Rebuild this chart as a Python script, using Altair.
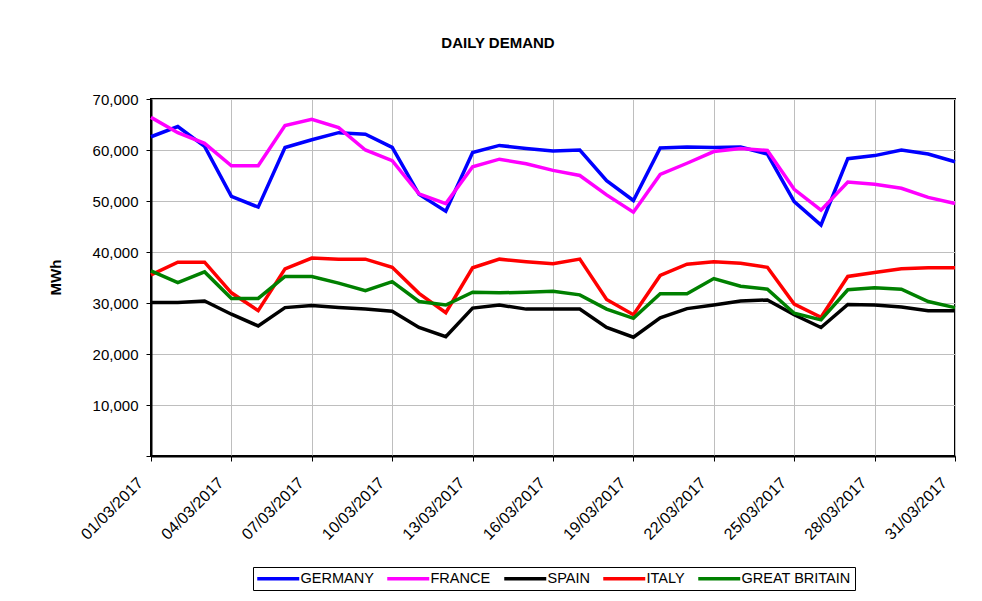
import altair as alt
import pandas as pd

dates = [f"{d:02d}/03/2017" for d in range(1, 32)]
tick_dates = dates[::3]
countries = ["GERMANY", "FRANCE", "SPAIN", "ITALY", "GREAT BRITAIN"]
colors = ["#0000FF", "#FF00FF", "#000000", "#FF0000", "#008000"]
y_ticks = [0, 10000, 20000, 30000, 40000, 50000, 60000, 70000]

germany = [62600, 64600, 60700, 50900, 48800, 60500, 62000, 63400, 63100, 60500,
           51300, 48000, 59500, 60900, 60300, 59800, 60000, 54000, 50100, 60400,
           60600, 60500, 60600, 59200, 49900, 45300, 58300, 58900, 60000, 59200, 57700]
france = [66400, 63400, 61300, 56900, 56900, 64800, 66000, 64400, 60000, 57900,
          51400, 49500, 56700, 58200, 57300, 56000, 55000, 51200, 47800, 55200,
          57400, 59700, 60300, 59900, 52300, 48200, 53700, 53300, 52500, 50700, 49500]
spain = [30100, 30100, 30400, 27800, 25500, 29100, 29500, 29100, 28800, 28400,
         25200, 23400, 29000, 29600, 28800, 28800, 28800, 25200, 23300, 27100,
         28900, 29600, 30400, 30600, 27700, 25200, 29700, 29600, 29200, 28500, 28500]
italy = [35500, 38000, 38000, 32000, 28500, 36700, 38800, 38600, 38600, 37000,
         31900, 28100, 36900, 38600, 38100, 37700, 38600, 30700, 27700, 35400,
         37600, 38100, 37800, 37000, 29800, 27200, 35200, 36000, 36700, 36900, 36900]
great_britain = [36300, 34000, 36100, 30900, 30900, 35200, 35200, 33900, 32400, 34200,
                 30300, 29600, 32100, 32000, 32100, 32300, 31600, 28800, 27000, 31800,
                 31800, 34800, 33300, 32700, 28000, 26700, 32600, 33000, 32700, 30300, 29100]

series = [germany, france, spain, italy, great_britain]
rows = []
for c, vals in zip(countries, series):
    for d, v in zip(dates, vals):
        rows.append({"date": d, "country": c, "mwh": v})
df = pd.DataFrame(rows)

FONT = "Liberation Sans"

chart = alt.Chart(df).mark_line(strokeWidth=3.5).encode(
    x=alt.X(
        "date:N",
        sort=dates,
        scale=alt.Scale(type="point", padding=0, domain=dates),
        axis=alt.Axis(
            values=tick_dates, title=None, labelAngle=-45, labelAlign="right",
            labelBaseline="middle", labelPadding=19, labelOffset=-11,
            labelOverlap=False, grid=True, gridColor="#BEBEBE", gridWidth=1,
            tickColor="black", tickSize=5, domainColor="black", domainWidth=2,
            labelFontSize=16, labelFont=FONT, labelColor="black",
        ),
    ),
    y=alt.Y(
        "mwh:Q",
        scale=alt.Scale(domain=[0, 70000], nice=False),
        axis=alt.Axis(
            values=y_ticks,
            labelExpr="datum.value == 0 ? '' : format(datum.value, ',')",
            title="MWh", titleFont=FONT, titleFontSize=15, titleFontWeight="bold",
            titleColor="black", titleAngle=270, titleAlign="center",
            titleBaseline="middle", titleX=-96, titleY=178,
            grid=True, gridColor="#BEBEBE", gridWidth=1,
            tickColor="black", tickSize=5, domainColor="black", domainWidth=2,
            labelFontSize=15, labelFont=FONT, labelColor="black", labelPadding=8,
        ),
    ),
    color=alt.Color(
        "country:N",
        sort=countries,
        title=None,
        scale=alt.Scale(domain=countries, range=colors),
        legend=alt.Legend(
            orient="none", legendX=102, legendY=468, direction="horizontal",
            columns=5, strokeColor="black", fillColor="white", padding=4,
            symbolType="M -4.2 0 H 4.2", symbolSize=100, symbolStrokeWidth=3.5,
            symbolOffset=14,
            labelFontSize=14.5, labelFont=FONT, labelColor="black",
            labelOffset=15, columnPadding=6,
        ),
    ),
).properties(
    width=804,
    height=357,
    autosize=alt.AutoSizeParams(type="none"),
    padding={"left": 143, "top": 91, "right": 15, "bottom": 137},
    background="white",
    title=alt.TitleParams(
        text="DAILY DEMAND", font=FONT, fontSize=15, fontWeight="bold",
        color="black", anchor="middle", dx=-55, offset=29, baseline="alphabetic",
    ),
).configure_view(stroke="black", strokeWidth=2)

chart.save("out.html", embed_options={"renderer": "svg", "actions": False})
